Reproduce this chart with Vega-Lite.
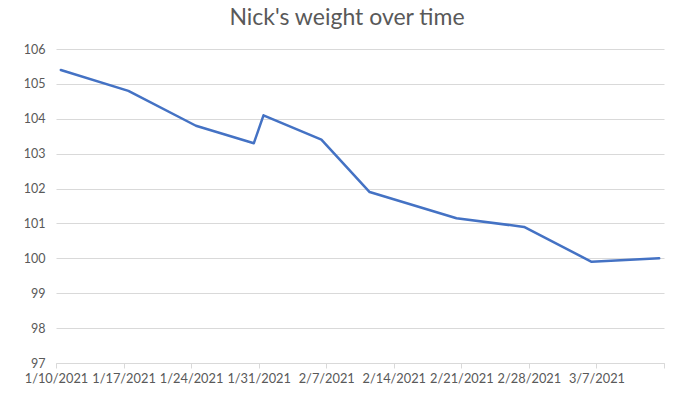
{
  "$schema": "https://vega.github.io/schema/vega-lite/v6.json",
  "autosize": {"type": "none"},
  "width": 608,
  "height": 314,
  "padding": {"left": 56, "top": 49, "right": 36, "bottom": 31},
  "background": "white",
  "title": {
    "text": "Nick's weight over time",
    "font": "Lato",
    "fontSize": 23,
    "fontWeight": "normal",
    "color": "#595959",
    "anchor": "middle",
    "dx": -13,
    "offset": 13
  },
  "data": {
    "values": [
      {"date": "2021-01-10", "weight": 105.4},
      {"date": "2021-01-17", "weight": 104.8},
      {"date": "2021-01-24", "weight": 103.8},
      {"date": "2021-01-30", "weight": 103.3},
      {"date": "2021-01-31", "weight": 104.1},
      {"date": "2021-02-06", "weight": 103.4},
      {"date": "2021-02-11", "weight": 101.9},
      {"date": "2021-02-20", "weight": 101.15},
      {"date": "2021-02-27", "weight": 100.9},
      {"date": "2021-03-06", "weight": 99.9},
      {"date": "2021-03-13", "weight": 100.0}
    ]
  },
  "mark": {"type": "line", "color": "#4472C4", "strokeWidth": 2.5, "strokeCap": "round", "strokeJoin": "round"},
  "encoding": {
    "x": {
      "field": "date",
      "type": "temporal",
      "timeUnit": "utcyearmonthdate",
      "bandPosition": 0.5,
      "title": null,
      "scale": {
        "type": "utc",
        "domain": [
          {"year": 2021, "month": 1, "date": 10, "utc": true},
          {"year": 2021, "month": 3, "date": 14, "utc": true}
        ]
      },
      "axis": {
        "values": [
          {"year": 2021, "month": 1, "date": 10, "utc": true},
          {"year": 2021, "month": 1, "date": 17, "utc": true},
          {"year": 2021, "month": 1, "date": 24, "utc": true},
          {"year": 2021, "month": 1, "date": 31, "utc": true},
          {"year": 2021, "month": 2, "date": 7, "utc": true},
          {"year": 2021, "month": 2, "date": 14, "utc": true},
          {"year": 2021, "month": 2, "date": 21, "utc": true},
          {"year": 2021, "month": 2, "date": 28, "utc": true},
          {"year": 2021, "month": 3, "date": 7, "utc": true},
          {"year": 2021, "month": 3, "date": 14, "utc": true}
        ],
        "labelExpr": "datum.value >= utc(2021, 2, 14) ? '' : utcFormat(datum.value, '%-m/%-d/%Y')",
        "grid": false,
        "domainColor": "#d9d9d9",
        "tickColor": "#d9d9d9",
        "tickSize": 5,
        "labelFont": "Lato",
        "labelFontSize": 12.8,
        "labelColor": "#595959",
        "labelPadding": 4,
        "labelFlush": false,
        "labelOverlap": false
      }
    },
    "y": {
      "field": "weight",
      "type": "quantitative",
      "title": null,
      "scale": {"domain": [97, 106], "zero": false, "nice": false},
      "axis": {
        "values": [97, 98, 99, 100, 101, 102, 103, 104, 105, 106],
        "domain": false,
        "ticks": false,
        "grid": true,
        "gridColor": "#d9d9d9",
        "gridWidth": 1,
        "labelFont": "Lato",
        "labelFontSize": 12.5,
        "labelColor": "#595959",
        "labelPadding": 11
      }
    }
  },
  "config": {"view": {"stroke": null}}
}
